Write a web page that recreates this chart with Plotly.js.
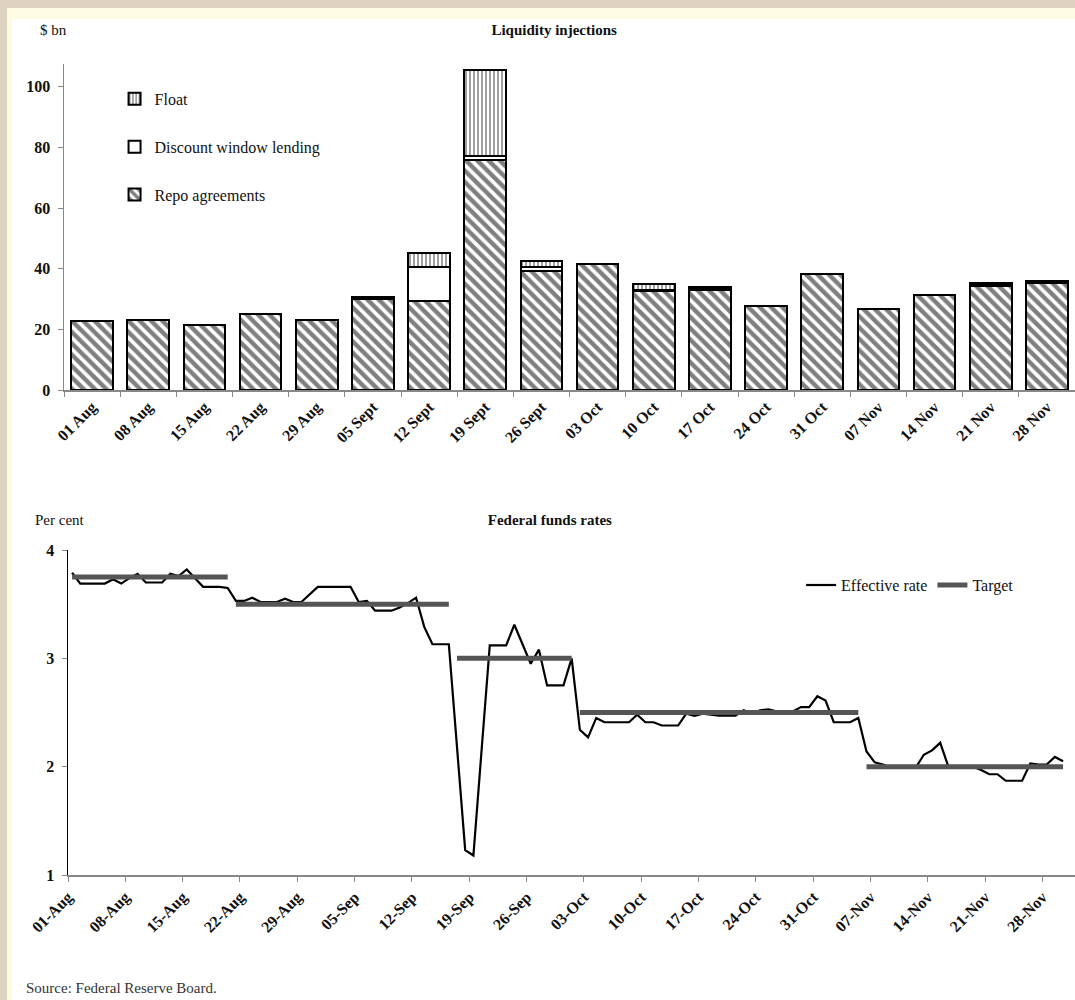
<!DOCTYPE html>
<html><head><meta charset="utf-8">
<script src="https://cdn.plot.ly/plotly-3.0.1.min.js"></script>
<style>
html,body{margin:0;padding:0;width:1075px;height:1000px;overflow:hidden;background:#ddd3c0;}
#frame{position:absolute;left:7px;top:8px;width:1068px;height:992px;background:#fdfbe1;}
#inner{position:absolute;left:12px;top:19px;width:1063px;height:981px;background:#fff;}
#top{position:absolute;left:12px;top:19px;width:1063px;height:470px;}
#bot{position:absolute;left:12px;top:480px;width:1063px;height:520px;}
</style></head>
<body>
<div id="frame"></div><div id="inner"></div>
<div id="top"></div><div id="bot"></div>
<script>
// ---------- Liquidity injections ($ bn, weekly) ----------
const weeks = ['01 Aug','08 Aug','15 Aug','22 Aug','29 Aug','05 Sept','12 Sept','19 Sept','26 Sept',
               '03 Oct','10 Oct','17 Oct','24 Oct','31 Oct','07 Nov','14 Nov','21 Nov','28 Nov'];
const repoAgreements = [22.8, 23.0, 21.3, 25.0, 23.0, 30.0, 29.3, 75.9, 39.3, 41.6, 32.7, 32.9, 27.6, 38.1, 26.8, 31.2, 34.3, 35.2];
const discountWindow = [0, 0, 0, 0, 0, 0.3, 11.2, 1.1, 1.2, 0, 0.3, 0.4, 0, 0, 0, 0, 0.3, 0.3];
const floatValues    = [0, 0, 0, 0, 0, 0.5, 4.7, 28.5, 2.2, 0, 1.8, 0.8, 0, 0, 0, 0, 0.6, 0.6];

// ---------- Federal funds rates (per cent, daily from 1 Aug 2001) ----------
const rateStartDate = '2001-08-01';
const effectiveRate = [
 3.79,3.69,3.69,3.69,3.69,3.73,3.69,3.74,3.78,3.70,
 3.70,3.70,3.78,3.76,3.82,3.74,3.66,3.66,3.66,3.65,
 3.53,3.53,3.56,3.52,3.52,3.52,3.55,3.52,3.52,3.59,
 3.66,3.66,3.66,3.66,3.66,3.52,3.53,3.44,3.44,3.44,
 3.47,3.51,3.56,3.29,3.13,3.13,3.13,2.18,1.23,1.18,
 2.15,3.12,3.12,3.12,3.31,3.13,2.95,3.08,2.75,2.75,
 2.75,3.00,2.34,2.27,2.45,2.41,2.41,2.41,2.41,2.48,
 2.41,2.41,2.38,2.38,2.38,2.49,2.47,2.49,2.48,2.47,
 2.47,2.47,2.52,2.49,2.52,2.53,2.51,2.51,2.51,2.55,
 2.55,2.65,2.61,2.41,2.41,2.41,2.45,2.14,2.04,2.02,
 1.99,1.99,1.99,1.99,2.11,2.15,2.22,2.00,2.00,2.00,
 2.00,1.97,1.93,1.93,1.87,1.87,1.87,2.03,2.02,2.02,
 2.09,2.05];
const targetStart = ['2001-08-01','2001-08-21','2001-09-17','2001-10-02','2001-11-06'];
const targetEnd   = ['2001-08-20','2001-09-16','2001-10-01','2001-11-05','2001-11-30'];
const targetRate  = [3.75, 3.50, 3.00, 2.50, 2.00];

const FONT = "'Liberation Serif', 'Times New Roman', serif";
const TXT = '#111';
const tickFont = {family:FONT, size:16, color:TXT, weight:'bold'};

// ---------- top chart ----------
const nz = a => a.map(v => v === 0 ? null : v);
const barLine = {color:'#000', width:2};
const topTraces = [
  {type:'bar', name:'Repo agreements', x:weeks, y:repoAgreements, legendgroup:'r', legendrank:3,
   marker:{color:'#fff', line:barLine, pattern:{shape:'\\', fgcolor:'#000', bgcolor:'#fff', size:8, solidity:0.55, fillmode:'overlay'}},
   hoverinfo:'skip'},
  {type:'bar', name:'Discount window lending', x:weeks, y:nz(discountWindow), legendgroup:'d', legendrank:2,
   marker:{color:'#fff', line:barLine}, hoverinfo:'skip'},
  {type:'bar', name:'Float', x:weeks, y:nz(floatValues), legendgroup:'f', legendrank:1,
   marker:{color:'#fff', line:barLine, pattern:{shape:'|', fgcolor:'#111', bgcolor:'#fff', size:4, solidity:0.4, fillmode:'overlay'}},
   hoverinfo:'skip'}
];
const topLayout = {
  width:1063, height:470,
  margin:{l:52, r:0, t:45, b:99},
  paper_bgcolor:'rgba(0,0,0,0)', plot_bgcolor:'rgba(0,0,0,0)',
  font:{family:FONT, size:15, color:TXT},
  barmode:'stack', bargap:0.26,
  title:{text:'<b>Liquidity injections</b>', x:0.51, xref:'container', xanchor:'center',
         y:0.977, yref:'container', yanchor:'middle', font:{family:FONT, size:15, color:TXT}},
  xaxis:{type:'category', range:[-0.5,17.5], tickangle:-45, ticks:'outside', tickson:'boundaries',
         ticklen:5, tickcolor:'#888', showline:true, linecolor:'#888', linewidth:1.5,
         showgrid:false, zeroline:false, fixedrange:true, tickfont:tickFont},
  yaxis:{range:[0,107.5], tickvals:[0,20,40,60,80,100], ticks:'outside', ticklen:5, tickcolor:'#888',
         showline:true, linecolor:'#888', linewidth:1.5, showgrid:false, zeroline:false,
         ticklabelstandoff:4, fixedrange:true, tickfont:tickFont},
  showlegend:true,
  legend:{x:0.05, y:0.945, xanchor:'left', yanchor:'top', bgcolor:'rgba(0,0,0,0)',
          traceorder:'grouped', tracegroupgap:24, font:{family:FONT, size:16, color:TXT}},
  annotations:[{text:'$ bn', xref:'paper', yref:'paper', x:-0.0257, y:1.104,
                xanchor:'left', yanchor:'middle', showarrow:false, font:{family:FONT, size:15, color:TXT}}]
};
Plotly.newPlot('top', topTraces, topLayout, {staticPlot:true, displayModeBar:false});

// ---------- bottom chart ----------
const startMs = Date.parse(rateStartDate + 'T00:00:00Z');
const rateDates = effectiveRate.map((v,i) =>
  new Date(startMs + i*86400000).toISOString().slice(0,10) + ' 12:00');
const tX = [], tY = [];
targetRate.forEach((r,i) => {
  tX.push(targetStart[i] + ' 12:00', targetEnd[i] + ' 12:00', null);
  tY.push(r, r, null);
});
const botTraces = [
  {type:'scatter', mode:'lines', name:'Effective rate', x:rateDates, y:effectiveRate,
   line:{color:'#000', width:2.2}, hoverinfo:'skip'},
  {type:'scatter', mode:'lines', name:'Target', x:tX, y:tY, connectgaps:false,
   line:{color:'#555', width:5}, hoverinfo:'skip'}
];
const botLayout = {
  width:1063, height:520,
  margin:{l:56, r:0, t:70, b:125},
  paper_bgcolor:'rgba(0,0,0,0)', plot_bgcolor:'rgba(0,0,0,0)',
  font:{family:FONT, size:15, color:TXT},
  title:{text:'<b>Federal funds rates</b>', x:0.506, xref:'container', xanchor:'center',
         y:0.923, yref:'container', yanchor:'middle', font:{family:FONT, size:15, color:TXT}},
  xaxis:{type:'date', range:['2001-08-01','2001-12-01 23:00'], tick0:'2001-08-01', dtick:604800000,
         tickformat:'%d-%b', tickangle:-45, ticks:'outside', ticklen:5, tickcolor:'#888',
         showline:true, linecolor:'#888', linewidth:1.5, showgrid:false, zeroline:false, tickfont:tickFont},
  yaxis:{range:[1,4], tickvals:[1,2,3,4], ticks:'outside', ticklen:5, tickcolor:'#888',
         showline:true, linecolor:'#000', linewidth:1.5, showgrid:false, zeroline:false,
         ticklabelstandoff:4, tickfont:tickFont},
  showlegend:true,
  legend:{orientation:'h', x:0.728, y:0.892, xanchor:'left', yanchor:'middle',
          bgcolor:'rgba(0,0,0,0)', font:{family:FONT, size:16, color:TXT}},
  annotations:[
    {text:'Per cent', xref:'paper', yref:'paper', x:-0.0348, y:1.092, xanchor:'left', yanchor:'middle',
     showarrow:false, font:{family:FONT, size:15, color:TXT}},
    {text:'Source: Federal Reserve Board.', xref:'paper', yref:'paper', x:-0.0437, y:-0.3477,
     xanchor:'left', yanchor:'middle', showarrow:false, font:{family:FONT, size:15, color:'#333'}}
  ]
};
Plotly.newPlot('bot', botTraces, botLayout, {staticPlot:true, displayModeBar:false});
</script>
</body></html>
